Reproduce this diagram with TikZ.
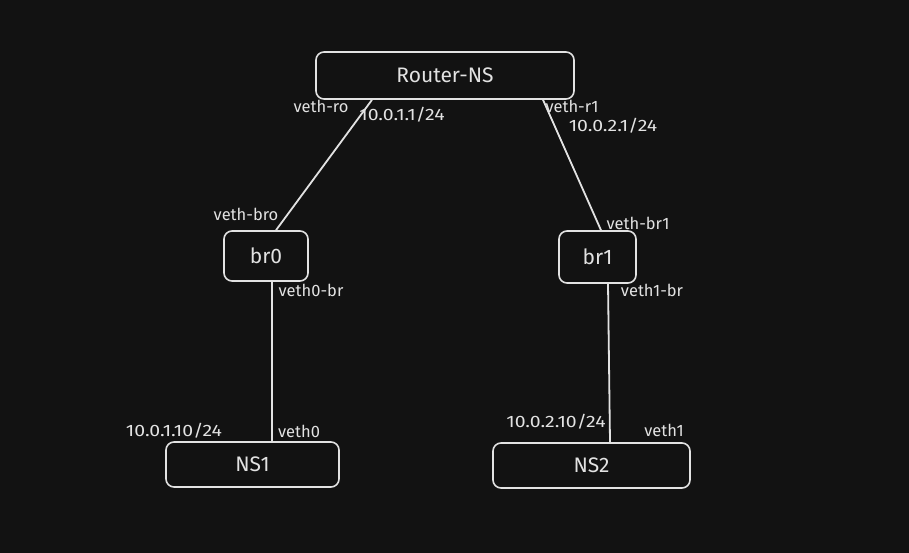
\documentclass[tikz,border=0pt]{standalone}
\usepackage{fontspec}
\setmainfont{Fira Sans}
\newfontfamily\numfont{Fira Sans}[FakeStretch=1.18]
\usetikzlibrary{calc}
\definecolor{bg}{HTML}{121212}
\definecolor{ink}{HTML}{E2E2E2}
\begin{document}
\begin{tikzpicture}[x=1pt,y=-1pt,
  box/.style={draw=ink,line width=1.6pt,rounded corners=8pt,text=ink,font=\fontsize{21}{24}\selectfont,inner sep=0pt},
  wire/.style={draw=ink,line width=1.8pt},
  lbl/.style={text=ink,font=\fontsize{16.5}{19}\selectfont,inner sep=0pt},
  num/.style={text=ink,font=\numfont\fontsize{16.5}{19}\selectfont,inner sep=0pt}]
\fill[bg] (0,0) rectangle (909,553);
\useasboundingbox (0,0) rectangle (909,553);
\node[box,minimum width=258pt,minimum height=47pt] (r) at (445,75.5) {Router-NS};
\node[box,minimum width=84pt,minimum height=50pt] (b0) at (266,256) {br0};
\node[box,minimum width=77pt,minimum height=52pt] (b1) at (597.5,257) {br1};
\node[box,minimum width=173pt,minimum height=45pt] (n1) at (252.5,464.5) {NS1};
\node[box,minimum width=197pt,minimum height=45pt] (n2) at (591.5,465.5) {NS2};
\draw[wire] ([xshift=-73pt]r.south) -- ([xshift=10pt]b0.north);
\draw[wire] ([xshift=98pt]r.south) -- ([xshift=3.5pt]b1.north);
\draw[wire] ([xshift=6pt]b0.south) -- ([xshift=19.5pt]n1.north);
\draw[wire] ([xshift=10.5pt]b1.south) -- ([xshift=18.5pt]n2.north);
\node[lbl] (l1) at (321,106) {veth-ro};
\node[num] (l2) at (402,115) {10.0.1.1/24};
\node[lbl] (l3) at (572,106) {veth-r1};
\node[num] (l4) at (613,126) {10.0.2.1/24};
\node[lbl] (l5) at (246,214) {veth-bro};
\node[lbl] (l6) at (638,223) {veth-br1};
\node[lbl] (l7) at (311,290) {veth0-br};
\node[lbl] (l8) at (652,290) {veth1-br};
\node[num] (l9) at (174,431) {10.0.1.10/24};
\node[lbl] (l10) at (299,431) {veth0};
\node[num] (l11) at (556,422) {10.0.2.10/24};
\node[lbl] (l12) at (664,430) {veth1};
\end{tikzpicture}
\end{document}
